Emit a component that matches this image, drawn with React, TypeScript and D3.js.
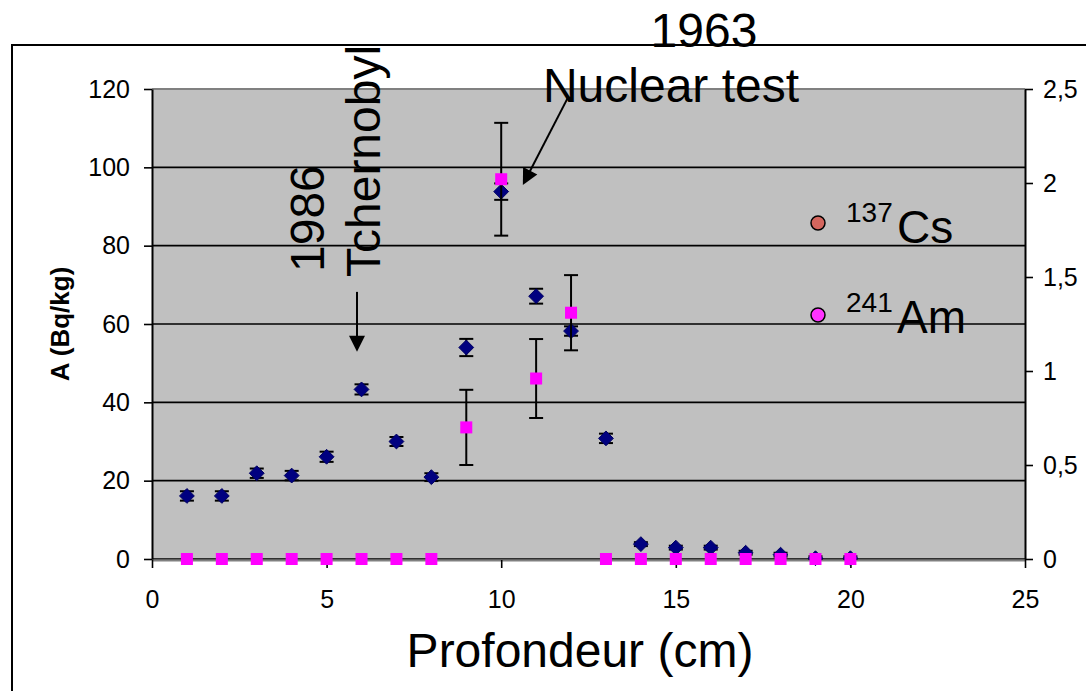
import React, { useEffect, useRef } from "react";
import * as d3 from "d3";

// depth (cm)
const depth = [1, 2, 3, 4, 5, 6, 7, 8, 9, 10, 11, 12, 13, 14, 15, 16, 17, 18, 19, 20];
// 137Cs activity, left axis (Bq/kg)
const cs = [16.1, 16.1, 21.9, 21.3, 26.1, 43.3, 30.0, 20.9, 54.0, 93.8, 67.1, 58.2, 30.8, 3.8, 2.9, 2.9, 1.6, 1.1, 0.2, 0.2];
const csErr = [1.2, 1.2, 1.2, 1.2, 1.3, 1.3, 1.15, 1.0, 2.2, 2.1, 1.9, 1.2, 1.2, 0.5, 0.5, 0.5, 0.5, 0.5, 0.5, 0.5];
// 241Am activity, right axis
const am = [0, 0, 0, 0, 0, 0, 0, 0, 0.7, 2.02, 0.96, 1.31, 0, 0, 0, 0, 0, 0, 0, 0];
const amErr = [0, 0, 0, 0, 0, 0, 0, 0, 0.2, 0.3, 0.21, 0.2, 0, 0, 0, 0, 0, 0, 0, 0];

const xTicks = [0, 5, 10, 15, 20, 25];
const yLeftTicks = [0, 20, 40, 60, 80, 100, 120];
const yRightTicks = [0, 0.5, 1, 1.5, 2, 2.5];

const FONT = "'Liberation Sans', Arial, sans-serif";

const App = () => {
  const ref = useRef<SVGSVGElement>(null);

  useEffect(() => {
    const W = 1086;
    const H = 691;
    const margin = { top: 89, right: 61, bottom: 132, left: 152 };
    const x0 = margin.left;
    const x1 = W - margin.right;
    const y0 = H - margin.bottom;
    const y1 = margin.top;

    const svg = d3.select(ref.current);
    svg.selectAll("*").remove();

    const x = d3.scaleLinear().domain([0, 25]).range([x0, x1]);
    const yL = d3.scaleLinear().domain([0, 120]).range([y0, y1]);
    const yR = d3.scaleLinear().domain([0, 2.5]).range([y0, y1]);

    // outer chart border
    svg
      .append("rect")
      .attr("x", 12)
      .attr("y", 45)
      .attr("width", W + 20)
      .attr("height", H + 20)
      .attr("fill", "white")
      .attr("stroke", "black")
      .attr("stroke-width", 2);

    // plot area
    svg
      .append("rect")
      .attr("x", x0)
      .attr("y", y1)
      .attr("width", x1 - x0)
      .attr("height", y0 - y1)
      .attr("fill", "#c0c0c0");
    svg
      .append("line")
      .attr("x1", x0)
      .attr("x2", x1)
      .attr("y1", y1)
      .attr("y2", y1)
      .attr("stroke", "#808080")
      .attr("stroke-width", 2);

    // gridlines
    svg
      .append("g")
      .selectAll("line")
      .data(yLeftTicks.filter((d) => d < 120))
      .enter()
      .append("line")
      .attr("x1", x0)
      .attr("x2", x1)
      .attr("y1", (d) => yL(d))
      .attr("y2", (d) => yL(d))
      .attr("stroke", "black")
      .attr("stroke-width", 1.6);

    // axes
    const styleAxis = (g, color) => {
      g.selectAll("text").attr("font-family", FONT).attr("font-size", 25).attr("fill", "black");
      g.selectAll(".tick line").attr("stroke", "black").attr("stroke-width", 1.6);
      g.select(".domain").attr("stroke", color).attr("stroke-width", 2);
    };

    const gx = svg
      .append("g")
      .attr("transform", `translate(0,${y0 + 1})`)
      .call(d3.axisBottom(x).tickValues(xTicks).tickSize(8).tickSizeOuter(0).tickPadding(22).tickFormat(d3.format("d")));
    styleAxis(gx, "#808080");

    const gl = svg
      .append("g")
      .attr("transform", `translate(${x0},0)`)
      .call(d3.axisLeft(yL).tickValues(yLeftTicks).tickSize(8).tickSizeOuter(0).tickPadding(14).tickFormat(d3.format("d")));
    styleAxis(gl, "black");

    const gr = svg
      .append("g")
      .attr("transform", `translate(${x1},0)`)
      .call(
        d3
          .axisRight(yR)
          .tickValues(yRightTicks)
          .tickSize(8)
          .tickSizeOuter(0)
          .tickPadding(10)
          .tickFormat((d) => String(d).replace(".", ","))
      );
    styleAxis(gr, "black");

    // axis titles
    svg
      .append("text")
      .attr("x", 580)
      .attr("y", 667)
      .attr("text-anchor", "middle")
      .attr("font-family", FONT)
      .attr("font-size", 48)
      .text("Profondeur (cm)");

    svg
      .append("text")
      .attr("transform", `translate(69,324) rotate(-90)`)
      .attr("text-anchor", "middle")
      .attr("font-family", FONT)
      .attr("font-size", 26)
      .attr("font-weight", "bold")
      .text("A (Bq/kg)");

    const points = depth.map((d, i) => ({ d, cs: cs[i], csErr: csErr[i], am: am[i], amErr: amErr[i] }));
    const cap = 7;

    // Cs error bars
    const ce = svg.append("g").attr("stroke", "black").attr("stroke-width", 2);
    points.forEach((p) => {
      const cx = x(p.d);
      const top = yL(p.cs + p.csErr);
      const bot = yL(Math.max(0, p.cs - p.csErr));
      ce.append("line").attr("x1", cx).attr("x2", cx).attr("y1", top).attr("y2", bot);
      ce.append("line").attr("x1", cx - cap).attr("x2", cx + cap).attr("y1", top).attr("y2", top);
      ce.append("line").attr("x1", cx - cap).attr("x2", cx + cap).attr("y1", bot).attr("y2", bot);
    });

    // Cs diamonds
    svg
      .append("g")
      .selectAll("path")
      .data(points)
      .enter()
      .append("path")
      .attr("d", d3.symbol(d3.symbolDiamond2, 140))
      .attr("transform", (p) => `translate(${x(p.d)},${yL(p.cs)})`)
      .attr("fill", "#000080")
      .attr("stroke", "#000060")
      .attr("stroke-width", 1);

    // Am error bars
    const ae = svg.append("g").attr("stroke", "black").attr("stroke-width", 2);
    points
      .filter((p) => p.amErr > 0)
      .forEach((p) => {
        const cx = x(p.d);
        const top = yR(p.am + p.amErr);
        const bot = yR(p.am - p.amErr);
        ae.append("line").attr("x1", cx).attr("x2", cx).attr("y1", top).attr("y2", bot);
        ae.append("line").attr("x1", cx - cap).attr("x2", cx + cap).attr("y1", top).attr("y2", top);
        ae.append("line").attr("x1", cx - cap).attr("x2", cx + cap).attr("y1", bot).attr("y2", bot);
      });

    // Am squares
    svg
      .append("g")
      .selectAll("rect")
      .data(points)
      .enter()
      .append("rect")
      .attr("x", (p) => x(p.d) - 6)
      .attr("y", (p) => yR(p.am) - 6)
      .attr("width", 12)
      .attr("height", 12)
      .attr("fill", "#ff00ff");

    // annotations
    const arrowHead = (tx, ty, angle) => {
      svg
        .append("path")
        .attr("d", "M0,0 L-16,-8 L-16,8 Z")
        .attr("transform", `translate(${tx},${ty}) rotate(${angle})`)
        .attr("fill", "black");
    };

    // Tchernobyl arrow
    const tX = x(5.87);
    svg
      .append("line")
      .attr("x1", tX)
      .attr("x2", tX)
      .attr("y1", yL(68.2))
      .attr("y2", yL(55))
      .attr("stroke", "black")
      .attr("stroke-width", 2);
    arrowHead(tX, yL(52.9), 90);

    // Nuclear test arrow
    const nx1 = x(11.91);
    const ny1 = yL(117.8);
    const nx2 = x(10.62);
    const ny2 = yL(95.5);
    const ang = (Math.atan2(ny2 - ny1, nx2 - nx1) * 180) / Math.PI;
    svg
      .append("line")
      .attr("x1", nx1)
      .attr("y1", ny1)
      .attr("x2", nx2 - 10 * Math.cos((ang * Math.PI) / 180))
      .attr("y2", ny2 - 10 * Math.sin((ang * Math.PI) / 180))
      .attr("stroke", "black")
      .attr("stroke-width", 2);
    arrowHead(nx2, ny2, ang);

    const big = (sel) => sel.attr("font-family", FONT).attr("font-size", 48).attr("fill", "black");

    big(svg.append("text").attr("transform", `translate(324,272) rotate(-90)`).text("1986"));
    big(svg.append("text").attr("transform", `translate(380,277) rotate(-90)`).text("Tchernobyl"));
    big(svg.append("text").attr("x", 704).attr("y", 47).attr("text-anchor", "middle").text("1963"));
    big(svg.append("text").attr("x", 671).attr("y", 102).attr("text-anchor", "middle").text("Nuclear test"));

    // legend
    const legend = [
      { label: "Cs", sup: "137", color: "#d4665e", cy: 223, base: 243 },
      { label: "Am", sup: "241", color: "#ff33ff", cy: 315, base: 333 },
    ];
    legend.forEach((l) => {
      svg
        .append("circle")
        .attr("cx", 818)
        .attr("cy", l.cy)
        .attr("r", 7)
        .attr("fill", l.color)
        .attr("stroke", "black")
        .attr("stroke-width", 1.5);
      svg
        .append("text")
        .attr("x", 846)
        .attr("y", l.base - 21)
        .attr("font-family", FONT)
        .attr("font-size", 28)
        .text(l.sup);
      svg
        .append("text")
        .attr("x", 897)
        .attr("y", l.base)
        .attr("font-family", FONT)
        .attr("font-size", 46)
        .text(l.label);
    });
  }, []);

  return (
    <svg
      ref={ref}
      width={1086}
      height={691}
      style={{ position: "absolute", left: 0, top: 0, background: "white" }}
    />
  );
};

export default App;
